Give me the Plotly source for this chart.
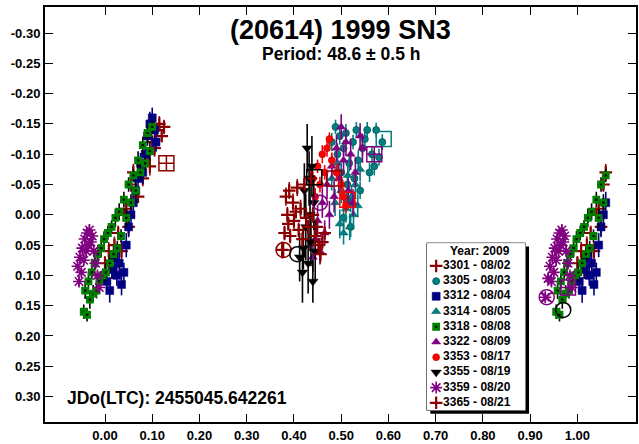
import plotly.graph_objects as go

# ---------------------------------------------------------------------------
# Phased lightcurve of (20614) 1999 SN3, P = 48.6 h
# phase in [0, 1), relative magnitude, 1-sigma error
# ---------------------------------------------------------------------------
s3301_phase = [0.000, 0.008, 0.015, 0.020, 0.028, 0.035, 0.040, 0.045, 0.050, 0.055, 0.060,
               0.070, 0.080, 0.090, 0.095, 0.100, 0.105, 0.110, 0.115, 0.120, 0.125]
s3301_mag = [0.080, 0.060, 0.095, 0.050, 0.030, 0.060, 0.000, -0.010, 0.020, -0.050, -0.070,
             -0.030, -0.060, -0.100, -0.080, -0.120, -0.110, -0.140, -0.150, -0.130, -0.145]
s3301_err = [0.012, 0.015, 0.010, 0.014, 0.012, 0.016, 0.011, 0.013, 0.015, 0.012, 0.014,
             0.010, 0.013, 0.012, 0.015, 0.011, 0.014, 0.012, 0.013, 0.010, 0.012]

s3305_phase = [0.480, 0.488, 0.492, 0.497, 0.500, 0.505, 0.510, 0.513, 0.517, 0.520, 0.525,
               0.528, 0.532, 0.536, 0.540, 0.545, 0.550, 0.555, 0.560, 0.565, 0.570, 0.574,
               0.580, 0.587, 0.505, 0.512, 0.520]
s3305_mag = [-0.120, -0.145, -0.100, -0.130, -0.070, -0.110, -0.135, -0.050, -0.085, -0.020,
             -0.120, -0.060, -0.140, -0.090, -0.040, -0.110, -0.125, -0.140, -0.070, -0.100,
             -0.080, -0.140, -0.095, -0.120, 0.005, -0.025, 0.020]
s3305_err = [0.015, 0.012, 0.018, 0.014, 0.016, 0.013, 0.015, 0.017, 0.014, 0.016, 0.012,
             0.015, 0.013, 0.016, 0.014, 0.012, 0.015, 0.013, 0.016, 0.014, 0.015, 0.012,
             0.014, 0.013, 0.018, 0.016, 0.017]

s3312_phase = [0.004, 0.010, 0.015, 0.020, 0.025, 0.030, 0.035, 0.040, 0.045, 0.050, 0.055,
               0.060, 0.065, 0.070, 0.075, 0.080, 0.085, 0.090, 0.095, 0.100, 0.105, 0.108]
s3312_mag = [0.110, 0.125, 0.090, 0.070, 0.100, 0.080, 0.115, 0.095, 0.050, 0.020, 0.000,
             -0.020, -0.040, -0.060, -0.085, -0.070, -0.100, -0.130, -0.150, -0.160, -0.140, -0.120]
s3312_err = [0.018, 0.020, 0.016, 0.019, 0.017, 0.021, 0.018, 0.016, 0.020, 0.017, 0.019,
             0.018, 0.016, 0.020, 0.017, 0.019, 0.018, 0.016, 0.020, 0.017, 0.018, 0.016]

s3314_phase = [0.480, 0.487, 0.492, 0.497, 0.500, 0.505, 0.510, 0.514, 0.518, 0.522, 0.526,
               0.530, 0.535, 0.540]
s3314_mag = [-0.060, -0.020, -0.085, 0.015, -0.040, 0.030, -0.010, -0.065, 0.020, -0.030,
             0.000, -0.050, -0.015, -0.075]
s3314_err = [0.020, 0.022, 0.018, 0.024, 0.021, 0.019, 0.023, 0.020, 0.022, 0.018, 0.021,
             0.023, 0.019, 0.020]

s3318_phase = [0.955, 0.958, 0.962, 0.965, 0.968, 0.972, 0.975, 0.978, 0.982, 0.985, 0.988,
               0.992, 0.995, 0.998, 0.002, 0.006, 0.010, 0.014, 0.018, 0.022, 0.026, 0.030,
               0.034, 0.040, 0.045, 0.050, 0.055, 0.060, 0.065, 0.070, 0.075, 0.080, 0.085,
               0.090, 0.095, 0.100]
s3318_mag = [0.160, 0.125, 0.165, 0.110, 0.140, 0.095, 0.130, 0.080, 0.125, 0.065, 0.110,
             0.055, 0.100, 0.040, 0.095, 0.030, 0.080, 0.020, 0.065, 0.005, 0.055, -0.005,
             0.035, -0.025, 0.005, -0.050, -0.020, -0.065, -0.040, -0.090, -0.070, -0.115,
             -0.085, -0.135, -0.105, -0.145]
s3318_err = [0.012, 0.014, 0.011, 0.013, 0.015, 0.012, 0.014, 0.011, 0.013, 0.015, 0.012,
             0.014, 0.011, 0.013, 0.015, 0.012, 0.014, 0.011, 0.013, 0.015, 0.012, 0.014,
             0.011, 0.013, 0.015, 0.012, 0.014, 0.011, 0.013, 0.015, 0.012, 0.014, 0.011,
             0.013, 0.015, 0.012]

s3322_phase = [0.440, 0.445, 0.450, 0.455, 0.460, 0.465, 0.470, 0.475, 0.480, 0.485, 0.490,
               0.495, 0.500, 0.505, 0.510, 0.515, 0.520, 0.525, 0.530, 0.540, 0.545]
s3322_mag = [0.070, 0.040, 0.010, 0.060, -0.020, 0.030, -0.050, 0.000, -0.080, -0.030, -0.110,
             -0.060, -0.145, -0.090, -0.120, -0.040, -0.100, -0.020, -0.070, -0.130, -0.110]
s3322_err = [0.024, 0.020, 0.026, 0.022, 0.025, 0.021, 0.024, 0.023, 0.020, 0.026, 0.022,
             0.025, 0.021, 0.024, 0.023, 0.020, 0.026, 0.022, 0.025, 0.021, 0.024]

s3353_phase = [0.440, 0.445, 0.450, 0.455, 0.460, 0.465, 0.470, 0.475, 0.480, 0.490, 0.500,
               0.505, 0.510]
s3353_mag = [-0.060, -0.030, -0.080, -0.050, -0.100, -0.070, -0.110, -0.125, -0.090, -0.070,
             -0.050, -0.030, -0.015]
s3353_err = [0.012, 0.014, 0.011, 0.013, 0.015, 0.012, 0.014, 0.011, 0.013, 0.015, 0.012,
             0.014, 0.011]

s3355_phase = [0.412, 0.418, 0.420, 0.422, 0.425, 0.428, 0.430, 0.432, 0.434, 0.436, 0.438,
               0.440, 0.442, 0.445]
s3355_mag = [0.070, 0.095, 0.055, -0.040, 0.020, -0.110, 0.080, -0.060, 0.000, 0.045, -0.080,
             0.110, -0.020, 0.060]
s3355_err = [0.040, 0.050, 0.035, 0.045, 0.055, 0.040, 0.050, 0.045, 0.060, 0.040, 0.050,
             0.035, 0.045, 0.050]

s3359_phase = [0.932, 0.938, 0.942, 0.945, 0.947, 0.950, 0.952, 0.955, 0.957, 0.960, 0.962,
               0.965, 0.967, 0.970, 0.973, 0.976, 0.980, 0.984, 0.988]
s3359_mag = [0.136, 0.105, 0.085, 0.110, 0.070, 0.095, 0.055, 0.075, 0.040, 0.060, 0.030,
             0.050, 0.025, 0.045, 0.035, 0.060, 0.080, 0.100, 0.120]
s3359_err = [0.008, 0.009, 0.007, 0.008, 0.009, 0.007, 0.008, 0.009, 0.007, 0.008, 0.009,
             0.007, 0.008, 0.009, 0.007, 0.008, 0.009, 0.007, 0.008]

s3365_phase = [0.375, 0.380, 0.383, 0.386, 0.388, 0.390, 0.392, 0.398, 0.400, 0.404, 0.407,
               0.410, 0.414, 0.418, 0.422, 0.426, 0.430, 0.436, 0.440, 0.444, 0.448, 0.452,
               0.456, 0.460, 0.465]
s3365_mag = [0.058, 0.030, -0.030, 0.000, 0.015, -0.040, 0.035, -0.020, 0.010, -0.005, -0.045,
             0.025, -0.010, 0.040, -0.050, 0.005, 0.020, -0.060, 0.000, 0.035, 0.020, 0.050,
             0.065, 0.045, 0.030]
s3365_err = [0.014, 0.012, 0.015, 0.013, 0.011, 0.014, 0.012, 0.015, 0.013, 0.011, 0.014,
             0.012, 0.015, 0.013, 0.011, 0.014, 0.012, 0.015, 0.013, 0.011, 0.014, 0.012,
             0.015, 0.013, 0.011]

session_labels = ["3301 - 08/02", "3305 - 08/03", "3312 - 08/04", "3314 - 08/05",
                  "3318 - 08/08", "3322 - 08/09", "3353 - 08/17", "3355 - 08/19",
                  "3359 - 08/20", "3365 - 08/21"]

# First observation of selected sessions (large open symbols)
first_phase = [0.130, 0.485, 0.378, 0.407, 0.443, 0.970, 0.455, 0.513, 0.590, 0.570, 0.935, 0.980]
first_mag = [-0.085, -0.060, 0.058, 0.065, -0.062, 0.157, -0.020, -0.025, -0.125, -0.100, 0.136, 0.120]

x_ticks = [0.0, 0.1, 0.2, 0.3, 0.4, 0.5, 0.6, 0.7, 0.8, 0.9, 1.0]
y_ticks = [-0.30, -0.25, -0.20, -0.15, -0.10, -0.05, 0.00, 0.05, 0.10, 0.15, 0.20, 0.25, 0.30]

title_text = "(20614) 1999 SN3"
period_text = "Period: 48.6 ± 0.5 h"
epoch_text = "JDo(LTC): 2455045.642261"
legend_title = "Year: 2009"

# ---------------------------------------------------------------------------
DARKRED = "#8b0000"
TEAL = "#008080"
NAVY = "#000080"
GREEN = "#008000"
PURPLE = "#800080"
RED = "#ff0000"
BLACK = "#000000"
FONT = "Liberation Sans, Arial, sans-serif"

series = [
    (s3301_phase, s3301_mag, s3301_err),
    (s3305_phase, s3305_mag, s3305_err),
    (s3312_phase, s3312_mag, s3312_err),
    (s3314_phase, s3314_mag, s3314_err),
    (s3318_phase, s3318_mag, s3318_err),
    (s3322_phase, s3322_mag, s3322_err),
    (s3353_phase, s3353_mag, s3353_err),
    (s3355_phase, s3355_mag, s3355_err),
    (s3359_phase, s3359_mag, s3359_err),
    (s3365_phase, s3365_mag, s3365_err),
]

marker_styles = [
    dict(symbol="cross-thin-open", size=9, color=DARKRED, line=dict(color=DARKRED, width=2.2)),
    dict(symbol="circle", size=7, color=TEAL, line=dict(color="#005555", width=0.8)),
    dict(symbol="square", size=8, color=NAVY, line=dict(color=NAVY, width=0.5)),
    dict(symbol="triangle-up", size=8, color=TEAL, line=dict(color="#005555", width=0.5)),
    dict(symbol="square", size=5, color=BLACK, line=dict(color=GREEN, width=2.8)),
    dict(symbol="triangle-up", size=8, color=PURPLE, line=dict(color=PURPLE, width=0.5)),
    dict(symbol="circle", size=7, color=RED, line=dict(color="#b00000", width=0.5)),
    dict(symbol="triangle-down", size=9, color=BLACK, line=dict(color=BLACK, width=0.5)),
    dict(symbol="asterisk-open", size=10, color=PURPLE, line=dict(color=PURPLE, width=1.6)),
    dict(symbol="cross-thin-open", size=9, color=DARKRED, line=dict(color=DARKRED, width=2.2)),
]
error_colors = [DARKRED, TEAL, NAVY, TEAL, BLACK, PURPLE, RED, BLACK, PURPLE, DARKRED]

first_symbols = ["square-cross-open", "square-open", "circle-cross-open", "circle-open",
                 "square-open", "circle-open", "circle-open", "square-open", "square-open",
                 "square-cross-open", "circle-x-open", "square-cross-open"]
first_colors = [DARKRED, DARKRED, DARKRED, BLACK, BLACK, BLACK, PURPLE, RED, TEAL, PURPLE,
                PURPLE, PURPLE]


def wrap_phase(phase, mag, err, lo=0.94, hi=0.06):
    """Repeat points near phase 0/1 on the other side of the plot."""
    xs, ys, es = [], [], []
    for p, m, e in zip(phase, mag, err):
        xs.append(p); ys.append(m); es.append(e)
        if p >= lo:
            xs.append(p - 1); ys.append(m); es.append(e)
        if p <= hi:
            xs.append(p + 1); ys.append(m); es.append(e)
    return xs, ys, es


fig = go.Figure()

for (ph, mg, er), label, mstyle, ecol in zip(series, session_labels, marker_styles, error_colors):
    xs, ys, es = wrap_phase(ph, mg, er)
    fig.add_trace(go.Scatter(
        x=xs, y=ys, mode="markers", name=label, showlegend=False,
        marker=mstyle,
        error_y=dict(type="data", array=es, visible=True, color=ecol, thickness=1.6, width=0),
    ))

fig.add_trace(go.Scatter(
    x=first_phase, y=first_mag, mode="markers", showlegend=False, hoverinfo="skip",
    marker=dict(symbol=first_symbols, size=15, color=first_colors,
                line=dict(color=first_colors, width=1.5)),
))

# ---- session key drawn in its own small axes ------------------------------
n_rows = len(session_labels) + 1
for i, (label, mstyle) in enumerate(zip(session_labels, marker_styles)):
    fig.add_trace(go.Scatter(
        x=[0.095], y=[i + 1.5], mode="markers", showlegend=False, hoverinfo="skip",
        marker=mstyle, xaxis="x2", yaxis="y2",
    ))
fig.add_trace(go.Scatter(
    x=[0.165] * len(session_labels), y=[i + 1.5 for i in range(len(session_labels))],
    mode="text", text=session_labels, textposition="middle right", showlegend=False,
    hoverinfo="skip", textfont=dict(family=FONT, size=12, color="black", weight="bold"),
    xaxis="x2", yaxis="y2",
))

key_x0, key_x1, key_y0, key_y1 = 0.646, 0.813, 0.028, 0.431
fig.add_shape(type="rect", xref="paper", yref="paper", layer="below",
              x0=key_x0 + 0.006, x1=key_x1 + 0.006, y0=key_y0 - 0.008, y1=key_y1 - 0.008,
              fillcolor="black", line=dict(width=0))
fig.add_shape(type="rect", xref="paper", yref="paper", layer="below",
              x0=key_x0, x1=key_x1, y0=key_y0, y1=key_y1,
              fillcolor="white", line=dict(color="black", width=1))

annotations = [
    dict(text=title_text, x=0.5, y=0.9445, xref="paper", yref="paper", showarrow=False,
         xanchor="center", yanchor="middle",
         font=dict(family=FONT, size=27, color="black", weight="bold")),
    dict(text=period_text, x=0.5, y=0.887, xref="paper", yref="paper", showarrow=False,
         xanchor="center", yanchor="middle",
         font=dict(family=FONT, size=17.5, color="black", weight="bold")),
    dict(text=epoch_text, x=0.033, y=0.057, xref="paper", yref="paper", showarrow=False,
         xanchor="left", yanchor="middle",
         font=dict(family=FONT, size=17.5, color="black", weight="bold")),
    dict(text=legend_title, x=0.54, y=0.55, xref="x2", yref="y2", showarrow=False,
         xanchor="center", yanchor="middle",
         font=dict(family=FONT, size=12, color="black", weight="bold")),
]

tick_font = dict(family=FONT, size=13, color="black", weight="bold")
fig.update_layout(
    width=639, height=444,
    margin=dict(l=45, r=1, t=7, b=22),
    paper_bgcolor="white", plot_bgcolor="white",
    showlegend=False,
    annotations=annotations,
    xaxis=dict(range=[-0.127, 1.124], tickvals=x_ticks, ticktext=[f"{v:.2f}" for v in x_ticks],
               ticks="inside", ticklen=8, tickwidth=1, tickcolor="black", mirror="ticks",
               showline=True, linewidth=2, linecolor="black", showgrid=False, zeroline=False,
               tickfont=tick_font),
    yaxis=dict(range=[0.342, -0.343], tickvals=y_ticks, ticktext=[f"{v:.2f}" for v in y_ticks],
               ticks="inside", ticklen=8, tickwidth=1, tickcolor="black", mirror="ticks",
               showline=True, linewidth=2, linecolor="black", showgrid=False, zeroline=False,
               tickfont=tick_font),
    xaxis2=dict(domain=[key_x0, key_x1], range=[0, 1], visible=False, anchor="y2",
                fixedrange=True),
    yaxis2=dict(domain=[key_y0, key_y1], range=[n_rows, 0], visible=False, anchor="x2",
                fixedrange=True),
)

fig.write_html("out.html")
